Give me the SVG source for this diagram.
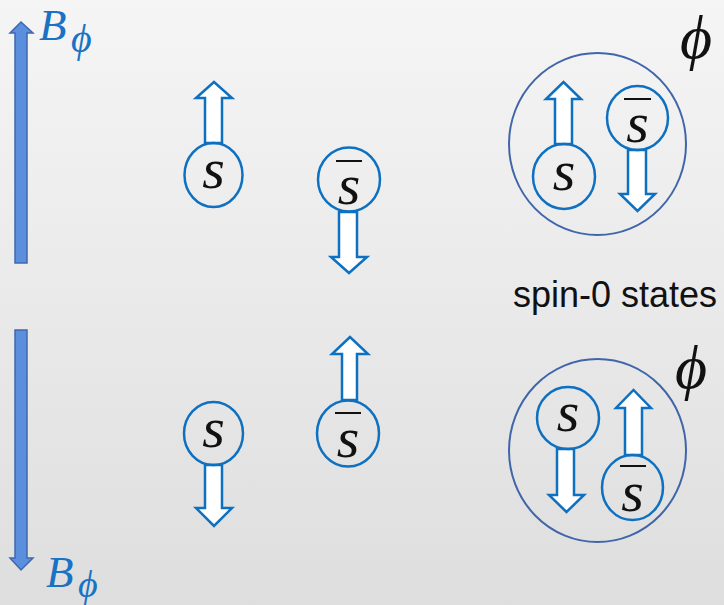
<svg xmlns="http://www.w3.org/2000/svg" width="724" height="605" viewBox="0 0 724 605">
<defs>
<linearGradient id="bg" x1="0" y1="0" x2="0" y2="1">
<stop offset="0" stop-color="#f5f5f5"/>
<stop offset="1" stop-color="#dedede"/>
</linearGradient>
<style>
.ball{fill:none;stroke:#0e70c0;stroke-width:2.5}
.spin{fill:#ffffff;stroke:#0e70c0;stroke-width:2.5;stroke-linejoin:miter}
.big{fill:none;stroke:#4066aa;stroke-width:2}
.field{fill:#5b8fde;stroke:#3f68b0;stroke-width:1.5}
.q{font-family:"Liberation Serif","DejaVu Serif",serif;font-style:italic;font-size:58px;fill:#111;text-anchor:middle}
.bar{stroke:#111;stroke-width:2}
.lab{font-family:"Liberation Serif","DejaVu Serif",serif;font-style:italic;fill:#1a72c4}
.phi{font-family:"Liberation Serif","DejaVu Serif",serif;font-style:italic;font-size:62px;fill:#111}
.txt{font-family:"Liberation Sans",Arial,sans-serif;font-size:36px;fill:#111}
</style>
</defs>
<rect width="724" height="605" fill="url(#bg)"/>

<g id="field-up">
<polygon class="field" points="15,263 27,263 27,33 33,33 21,22 10,33 15,33"/>
<text class="lab" x="39" y="40" font-size="45">B</text>
<text class="lab" x="71" y="52" font-size="40">ϕ</text>
</g>
<g id="field-down">
<polygon class="field" points="15,330 27,330 27,558 33,558 21,570 10,558 15,558"/>
<text class="lab" x="46" y="587" font-size="45">B</text>
<text class="lab" x="78" y="597" font-size="38">ϕ</text>
</g>

<g id="s-top">
<polygon class="spin" points="205,143 222,143 222,98 232,98 214,82 196,98 205,98"/>
<ellipse class="ball" cx="213.5" cy="175" rx="29" ry="32"/>
<text class="q" x="213.5" y="188">s</text>
</g>
<g id="sbar-top">
<polygon class="spin" points="339,212 357,212 357,257 367,257 349,273 331,257 339,257"/>
<ellipse class="ball" cx="349" cy="179.5" rx="31" ry="32"/>
<line class="bar" x1="336" y1="161" x2="362" y2="161"/>
<text class="q" x="349" y="204">s</text>
</g>
<g id="s-bottom">
<polygon class="spin" points="205,465 222,465 222,508 232,508 214,526 196,508 205,508"/>
<ellipse class="ball" cx="213.5" cy="433.5" rx="29.5" ry="31.5"/>
<text class="q" x="213.5" y="447">s</text>
</g>
<g id="sbar-bottom">
<polygon class="spin" points="342,400 357,400 357,354 368,354 350,337 332,354 342,354"/>
<ellipse class="ball" cx="348" cy="433.5" rx="31" ry="33"/>
<line class="bar" x1="335" y1="413" x2="361" y2="413"/>
<text class="q" x="348" y="457">s</text>
</g>

<g id="phi-top">
<ellipse class="big" cx="597.5" cy="144" rx="88.5" ry="91"/>
<polygon class="spin" points="555,144 572,144 572,99 581,99 563.5,82 546,99 555,99"/>
<ellipse class="ball" cx="564" cy="176.5" rx="31" ry="32.5"/>
<text class="q" x="564" y="190">s</text>
<polygon class="spin" points="628,150 646,150 646,194 655,194 637.5,211 620,194 628,194"/>
<ellipse class="ball" cx="637.5" cy="118" rx="30.5" ry="32"/>
<line class="bar" x1="624" y1="99" x2="651" y2="99"/>
<text class="q" x="637.5" y="142">s</text>
<text class="phi" x="680" y="58">ϕ</text>
</g>

<text class="txt" x="513" y="307">spin-0 states</text>

<g id="phi-bottom">
<ellipse class="big" cx="597.5" cy="450.5" rx="88.5" ry="91.5"/>
<polygon class="spin" points="557,449 574,449 574,495 584,495 566.5,512 549,495 557,495"/>
<ellipse class="ball" cx="568" cy="418" rx="31" ry="31"/>
<text class="q" x="568" y="431">s</text>
<polygon class="spin" points="625,455 642,455 642,408 651,408 633.5,390 616,408 625,408"/>
<ellipse class="ball" cx="632.5" cy="487.5" rx="30.5" ry="32.5"/>
<line class="bar" x1="620" y1="466" x2="646" y2="466"/>
<text class="q" x="632.5" y="511">s</text>
<text class="phi" x="675" y="388">ϕ</text>
</g>
</svg>
